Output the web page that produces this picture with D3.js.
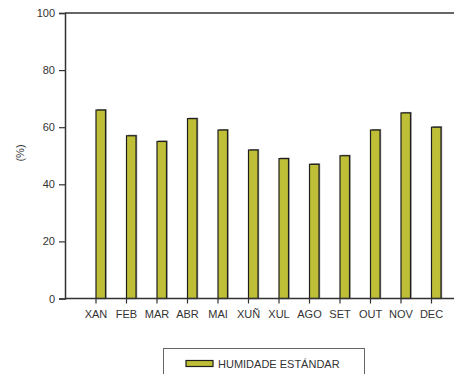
<!DOCTYPE html>
<html>
<head>
<meta charset="utf-8">
<script src="https://cdn.jsdelivr.net/npm/d3@7"></script>
<style>
  body { margin: 0; background: white; }
  text { font-family: "Liberation Sans", Arial, sans-serif; }
</style>
</head>
<body>
<div id="chart"></div>
<script>
// data
var months = ["XAN", "FEB", "MAR", "ABR", "MAI", "XUÑ", "XUL", "AGO", "SET", "OUT", "NOV", "DEC"];
var humidity = [66, 57, 55, 63, 59, 52, 49, 47, 50, 59, 65, 60];
var yTicks = [0, 20, 40, 60, 80, 100];
var seriesName = "HUMIDADE ESTÁNDAR";

var width = 454, height = 374;
var svg = d3.select("#chart").append("svg")
    .attr("width", width).attr("height", height);

//plot area (window.top is reserved, so use plot* names)
var plotLeft = 65, plotTop = 13, plotBottom = 298.5, plotRight = 454;

var y = d3.scaleLinear().domain([0, 100]).range([plotBottom, plotTop]);
var x = d3.scaleBand().domain(months).range([96, 96 + 12 * 30.5]).paddingInner(0).paddingOuter(0);
var barW = 9.5;

//bars, with a grey shadow behind each
var bars = svg.append("g");
bars.selectAll("rect.shadow")
    .data(humidity)
    .enter().append("rect")
    .attr("class", "shadow")
    .attr("x", function(d, i) { return x(months[i]) + 1.2; })
    .attr("y", function(d) { return y(d) - 1; })
    .attr("width", barW)
    .attr("height", function(d) { return plotBottom - y(d) + 1; })
    .attr("fill", "#8a8a8a");
bars.selectAll("rect.bar")
    .data(humidity)
    .enter().append("rect")
    .attr("class", "bar")
    .attr("x", function(d, i) { return x(months[i]); })
    .attr("y", function(d) { return y(d); })
    .attr("width", barW)
    .attr("height", function(d) { return plotBottom - y(d); })
    .attr("fill", "#bfbf37")
    .attr("stroke", "#1e1e1e")
    .attr("stroke-width", 1.2);

//y axis
var yAxis = svg.append("g")
    .attr("transform", "translate(" + plotLeft + ",0)")
    .call(d3.axisLeft(y).tickValues(yTicks).tickSize(6).tickPadding(4));
yAxis.select(".domain").attr("stroke", "#333").attr("stroke-width", 1.5);
yAxis.selectAll(".tick line").attr("stroke", "#333").attr("stroke-width", 1.2);
yAxis.selectAll("text").attr("font-size", 11).attr("fill", "#333")
    .attr("font-family", "Liberation Sans, Arial, sans-serif");

//x axis: ticks on band starts, labels centred on them
var xAxis = svg.append("g").attr("transform", "translate(0," + plotBottom + ")");
xAxis.append("line").attr("x1", plotLeft).attr("x2", plotRight)
    .attr("stroke", "#333").attr("stroke-width", 1.5);
var xt = xAxis.selectAll("g.tick").data(months).enter().append("g")
    .attr("transform", function(d) { return "translate(" + x(d) + ",0)"; });
xt.append("line").attr("y2", 5).attr("stroke", "#333").attr("stroke-width", 1.2);
xt.append("text").attr("y", 19.5).attr("text-anchor", "middle")
    .attr("font-size", 11).attr("fill", "#333").text(function(d) { return d; });

//top frame line
svg.append("line").attr("x1", plotLeft).attr("x2", plotRight).attr("y1", plotTop).attr("y2", plotTop)
    .attr("stroke", "#333").attr("stroke-width", 1.5);

//y label
svg.append("text")
    .attr("transform", "translate(24,153) rotate(-90)")
    .attr("text-anchor", "middle")
    .attr("font-size", 11).attr("fill", "#333")
    .text("(%)");

//legend
var legend = svg.append("g");
legend.append("rect").attr("x", 163.5).attr("y", 348.5).attr("width", 201).attr("height", 40)
    .attr("fill", "white").attr("stroke", "#666").attr("stroke-width", 1);
legend.append("rect").attr("x", 186).attr("y", 360.5).attr("width", 27).attr("height", 6)
    .attr("fill", "#bfbf37").attr("stroke", "#1e1e1e").attr("stroke-width", 1.2);
legend.append("text").attr("x", 218).attr("y", 367.5)
    .attr("font-size", 11).attr("fill", "#333").text(seriesName);
</script>
</body>
</html>
